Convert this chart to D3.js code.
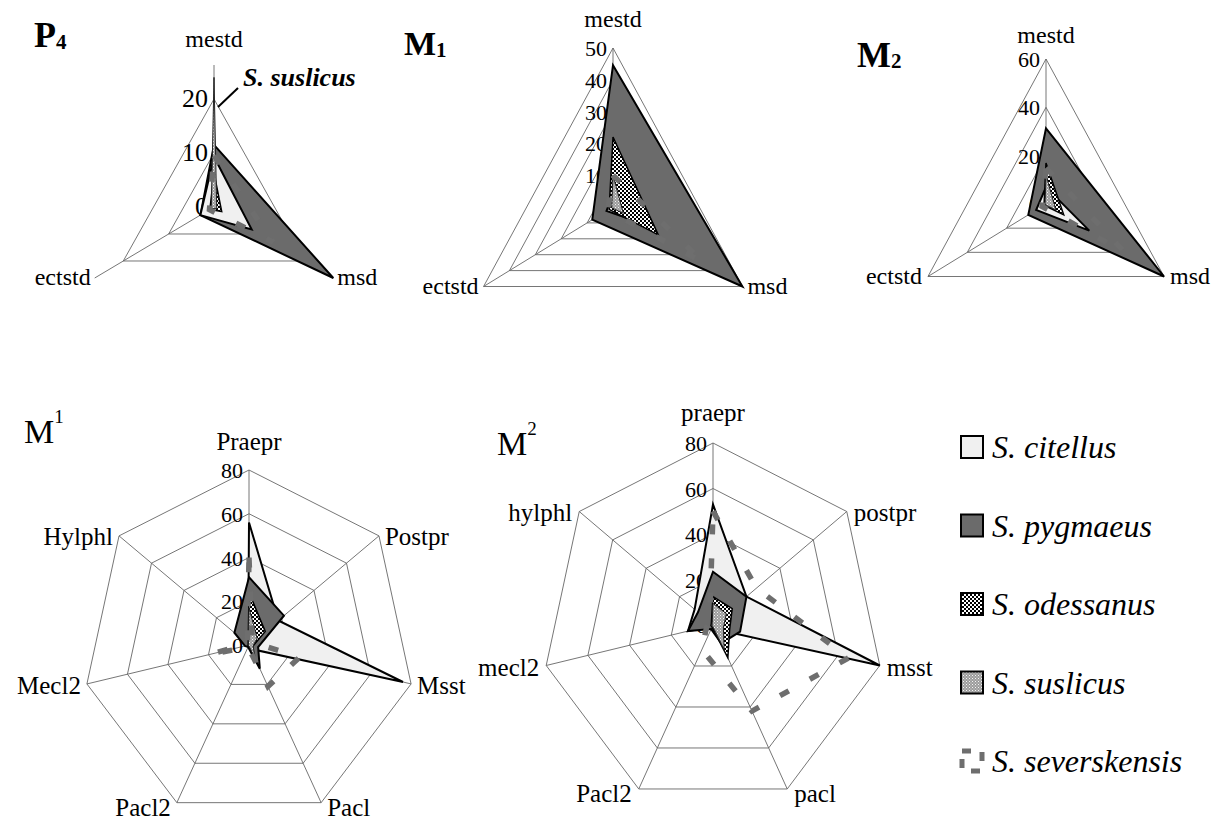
<!DOCTYPE html>
<html>
<head>
<meta charset="utf-8">
<script src="https://cdn.jsdelivr.net/npm/d3@7"></script>
<style>
  body { margin: 0; background: #ffffff; }
</style>
<title>Radar charts</title>
</head>
<body>
<svg id="fig" width="1215" height="821"></svg>
<script>
// ---- data (species order: citellus, pygmaeus, odessanus, suslicus, severskensis)
const speciesNames = ["S. citellus", "S. pygmaeus", "S. odessanus", "S. suslicus", "S. severskensis"];

const lowerAxes = ["mestd", "msd", "ectstd"];

const p4Ticks = [0, 10, 20];
const p4Values = [
  [9.3, 8.3, 3],
  [11.5, 26.3, 3],
  [6.3, 1.7, 0.9],
  [24, 0.6, 0.6],
  [9.5, 13, 1]
];

const m1Ticks = [0, 10, 20, 30, 40, 50];
const m1Values = [
  [4, 9, 2.5],
  [44.6, 50, 8],
  [22, 17.5, 1.5],
  [10, 4, 0.5],
  [10, 35, 2]
];

const m2Ticks = [0, 20, 40, 60];
const m2Values = [
  [7, 22, 5],
  [31.3, 60, 9],
  [17, 9, 1],
  [12, 5, 0.5],
  [15, 40, 2]
];

const upper1Axes = ["Praepr", "Postpr", "Msst", "Pacl", "Pacl2", "Mecl2", "Hylphl"];
const upper2Axes = ["praepr", "postpr", "msst", "pacl", "Pacl2", "mecl2", "hylphl"];
const upperTicks = [0, 20, 40, 60, 80];

const mu1Values = [
  [56, 18, 76, 2, 0.5, 0.5, 0.5],
  [31, 21.5, 4.5, 12, 1, 2, 9],
  [24, 10, 2, 5, 0.5, 0.5, 0.5],
  [17, 5, 2, 7, 0.3, 0.3, 0.3],
  [40, 2, 25, 21, 1, 20, 1]
];

const mu2Values = [
  [53, 20, 80, 2, 1, 12, 11],
  [23.4, 20, 13, 9, 2, 12, 9],
  [12.5, 11.5, 8, 16, 1, 1, 1],
  [9.5, 8, 5, 12, 0.5, 0.5, 0.5],
  [50, 26, 65, 42, 12, 3, 2]
];

// ---- layout
var serif = "'Liberation Serif', 'Times New Roman', 'DejaVu Serif', serif";
var svg = d3.select("#fig").attr("font-family", serif);

var defs = svg.append("defs");
var checker = defs.append("pattern").attr("id", "checker")
  .attr("width", 4).attr("height", 4).attr("patternUnits", "userSpaceOnUse");
checker.append("rect").attr("width", 4).attr("height", 4).attr("fill", "#fff");
checker.append("rect").attr("width", 2).attr("height", 2).attr("fill", "#000");
checker.append("rect").attr("x", 2).attr("y", 2).attr("width", 2).attr("height", 2).attr("fill", "#000");

var dots = defs.append("pattern").attr("id", "dots")
  .attr("width", 3).attr("height", 3).attr("patternUnits", "userSpaceOnUse");
dots.append("rect").attr("width", 3).attr("height", 3).attr("fill", "#9c9c9c");
dots.append("rect").attr("width", 1).attr("height", 1).attr("fill", "#f4f4f4");
dots.append("rect").attr("x", 1.5).attr("y", 1.5).attr("width", 1).attr("height", 1).attr("fill", "#dcdcdc");

var seriesStyle = [
  { fill: "#f0f0f0", stroke: "#000", width: 2 },
  { fill: "#6b6b6b", stroke: "#000", width: 2 },
  { fill: "url(#checker)", stroke: "#000", width: 1.5 },
  { fill: "url(#dots)", stroke: "#222", width: 1 },
  { fill: "none", stroke: "#6e6e6e", width: 5.5, dash: "10,24" }
];

// drawing order of the series: the triangles show citellus over pygmaeus
var triangleOrder = [1, 0, 2, 3, 4];
var heptagonOrder = [0, 1, 2, 3, 4];

var charts = [
  { axes: lowerAxes, ticks: p4Ticks, values: p4Values, max: 26.3, cx: 214, cy: 207, radius: 142, kx: 0.97,
    order: triangleOrder, tickSize: 26, labelSize: 24, topGap: 18, sideGap: 4, labelDy: 4.5 },
  { axes: lowerAxes, ticks: m1Ticks, values: m1Values, max: 50, cx: 613, cy: 207, radius: 159, kx: 0.94,
    order: triangleOrder, tickSize: 22, labelSize: 24, topGap: 21, sideGap: 5, labelDy: 4.5 },
  { axes: lowerAxes, ticks: m2Ticks, values: m2Values, max: 60, cx: 1046, cy: 204, radius: 145, kx: 0.94,
    order: triangleOrder, tickSize: 22, labelSize: 24, topGap: 16, sideGap: 6, labelDy: 4.5 },
  { axes: upper1Axes, ticks: upperTicks, values: mu1Values, max: 80, cx: 249, cy: 645, radius: 175, kx: 0.95,
    order: heptagonOrder, tickSize: 22, labelSize: 25, topGap: 20, sideGap: 6, labelDy: 9 },
  { axes: upper2Axes, ticks: upperTicks, values: mu2Values, max: 80, cx: 713, cy: 625, radius: 182, kx: 0.94,
    order: heptagonOrder, tickSize: 22, labelSize: 25, topGap: 22, sideGap: 7, labelDy: 9 }
];

charts.forEach(function (c) {
  var n = c.axes.length;
  var r = d3.scaleLinear().domain([0, c.max]).range([0, c.radius]);
  var angle = function (i) { return (i * 2 * Math.PI) / n; };
  var pt = function (v, i) {
    return [c.cx + r(v) * Math.sin(angle(i)) * c.kx, c.cy - r(v) * Math.cos(angle(i))];
  };
  var g = svg.append("g");

  // rings
  c.ticks.filter(function (t) { return t > 0; }).forEach(function (t) {
    g.append("polygon")
      .attr("points", d3.range(n).map(function (i) { return pt(t, i).join(","); }).join(" "))
      .attr("fill", "none")
      .attr("stroke", "#666")
      .attr("stroke-width", 0.9);
  });

  // spokes
  d3.range(n).forEach(function (i) {
    var e = pt(c.max, i);
    g.append("line")
      .attr("x1", c.cx).attr("y1", c.cy)
      .attr("x2", e[0]).attr("y2", e[1])
      .attr("stroke", "#666")
      .attr("stroke-width", 0.9);
  });

  // tick labels (under the polygons, as in the original)
  g.selectAll(".tick")
    .data(c.ticks)
    .enter()
    .append("text")
    .attr("x", c.cx - 6)
    .attr("y", function (t) { return c.cy - r(t) + 8; })
    .attr("text-anchor", "end")
    .attr("font-family", serif)
    .style("font-size", c.tickSize + "px")
    .text(function (t) { return t; });

  // series
  c.order.forEach(function (s) {
    var st = seriesStyle[s];
    g.append("path")
      .attr("d", d3.line().curve(d3.curveLinearClosed)(c.values[s].map(pt)))
      .attr("fill", st.fill)
      .attr("stroke", st.stroke)
      .attr("stroke-width", st.width)
      .attr("stroke-linejoin", "miter")
      .attr("stroke-dasharray", st.dash || null);
  });

  // category labels
  c.axes.forEach(function (name, i) {
    var e = pt(c.max, i);
    var s = Math.sin(angle(i)), co = Math.cos(angle(i));
    var t = g.append("text")
      .attr("font-family", serif)
      .style("font-size", c.labelSize + "px")
      .text(name);
    if (Math.abs(s) < 0.01) {
      t.attr("x", e[0]).attr("y", e[1] - c.topGap).attr("text-anchor", "middle");
    } else {
      t.attr("x", e[0] + (s > 0 ? c.sideGap : -c.sideGap))
        .attr("y", e[1] + c.labelDy + 5 * Math.max(0, -co))
        .attr("text-anchor", s > 0 ? "start" : "end");
    }
  });
});

// ---- titles
function title(x, y, main, sub, subDy, bold, size, subSize) {
  var t = svg.append("text").attr("x", x).attr("y", y)
    .attr("font-family", serif)
    .style("font-size", size + "px")
    .style("font-weight", bold ? "bold" : "normal");
  t.append("tspan").text(main);
  t.append("tspan").attr("dy", subDy).style("font-size", subSize + "px").text(sub);
}
title(34, 47, "P", "4", 2, true, 36, 21);
title(404, 55, "M", "1", 2, true, 34, 21);
title(857, 67, "M", "2", 1, true, 36, 21);
title(24, 443, "M", "1", -20, false, 34, 19);
title(497, 455, "M", "2", -20, false, 34, 19);

// S. suslicus pointer in P4
svg.append("line")
  .attr("x1", 238).attr("y1", 88).attr("x2", 218).attr("y2", 107)
  .attr("stroke", "#000").attr("stroke-width", 2);
svg.append("text")
  .attr("x", 243).attr("y", 86)
  .attr("font-family", serif)
  .style("font-size", "26px")
  .style("font-weight", "bold")
  .style("font-style", "italic")
  .text("S. suslicus");

// ---- legend
var legendY = d3.scaleLinear().domain([0, 4]).range([447, 761]);
var legend = svg.append("g");
speciesNames.forEach(function (name, i) {
  var st = seriesStyle[i];
  var y = legendY(i);
  if (i < 4) {
    legend.append("rect")
      .attr("x", 961).attr("y", y - 11)
      .attr("width", 22).attr("height", 22)
      .attr("fill", st.fill)
      .attr("stroke", "#000")
      .attr("stroke-width", 2);
  } else {
    legend.append("rect")
      .attr("x", 962).attr("y", y - 10)
      .attr("width", 20).attr("height", 20)
      .attr("fill", "none")
      .attr("stroke", st.stroke)
      .attr("stroke-width", 5)
      .attr("stroke-dasharray", "9,12");
  }
  legend.append("text")
    .attr("x", 992).attr("y", y + 11)
    .attr("font-family", serif)
    .style("font-size", "32px")
    .style("font-style", "italic")
    .text(name);
});
</script>
</body>
</html>
